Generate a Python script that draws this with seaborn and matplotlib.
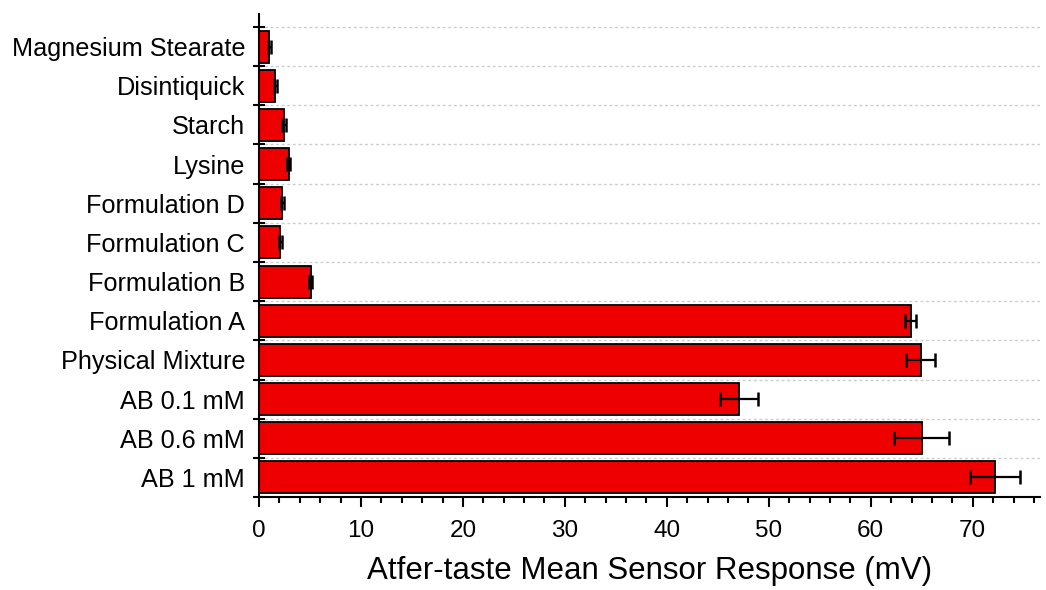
import matplotlib
matplotlib.use("Agg")
import matplotlib.pyplot as plt
import seaborn as sns
import pandas as pd
import numpy as np
from matplotlib.ticker import MultipleLocator, FixedLocator

categories = ["Magnesium Stearate", "Disintiquick", "Starch", "Lysine",
              "Formulation D", "Formulation C", "Formulation B", "Formulation A",
              "Physical Mixture", "AB 0.1 mM", "AB 0.6 mM", "AB 1 mM"]
means = [1.0, 1.6, 2.45, 2.9, 2.3, 2.1, 5.07, 63.9, 64.9, 47.1, 65.0, 72.2]
sds = [0.15, 0.15, 0.15, 0.15, 0.15, 0.15, 0.15, 0.5, 1.4, 1.85, 2.7, 2.45]

df = pd.DataFrame({"Sample": categories, "Response": means})

sns.set_theme(style="white")
plt.rcParams["font.family"] = ["Liberation Sans", "DejaVu Sans"]

fig = plt.figure(figsize=(10.46, 5.90), dpi=100)
ax = fig.add_axes([0.2476, 0.1576, 0.7467, 0.8187])

sns.barplot(data=df, x="Response", y="Sample", order=categories, orient="h",
            color="#EE0000", saturation=1, width=0.82, edgecolor="black",
            linewidth=1.3, errorbar=None, ax=ax, zorder=2)

pos = np.arange(len(categories))
ax.errorbar(means, pos, xerr=sds, fmt="none", ecolor="black", elinewidth=1.6,
            capsize=4.7, capthick=1.8, zorder=3)

ax.set_xlim(0, 76.6)
ax.set_ylim(len(categories) - 0.5, -0.832)

ax.xaxis.set_major_locator(MultipleLocator(10))
ax.xaxis.set_minor_locator(MultipleLocator(2))
ax.yaxis.set_minor_locator(FixedLocator(np.arange(-0.5, len(categories), 1.0)))

ax.tick_params(axis="x", which="major", direction="out", length=7.5, width=1.5,
               labelsize=17.5, pad=9, bottom=True, color="black")
ax.tick_params(axis="x", which="minor", direction="out", length=4.5, width=1.5,
               bottom=True, color="black")
ax.tick_params(axis="y", which="major", length=0, labelsize=18.2, pad=10)
ax.tick_params(axis="y", which="minor", direction="inout", length=9, width=1.5,
               left=True, color="black")

ax.grid(False)
ax.yaxis.grid(True, which="minor", linestyle=(0, (2, 2)), color="#cccccc",
              linewidth=1.0, zorder=0)
ax.set_axisbelow(True)

for s in ["top", "right"]:
    ax.spines[s].set_visible(False)
for s in ["left", "bottom"]:
    ax.spines[s].set_color("black")
    ax.spines[s].set_linewidth(1.5)

ax.set_ylabel("")
ax.set_xlabel("Atfer-taste Mean Sensor Response (mV)", fontsize=22.5, labelpad=10,
              color="black")
for lab in ax.get_xticklabels() + ax.get_yticklabels():
    lab.set_color("black")

fig.savefig("out.png", dpi=100)
